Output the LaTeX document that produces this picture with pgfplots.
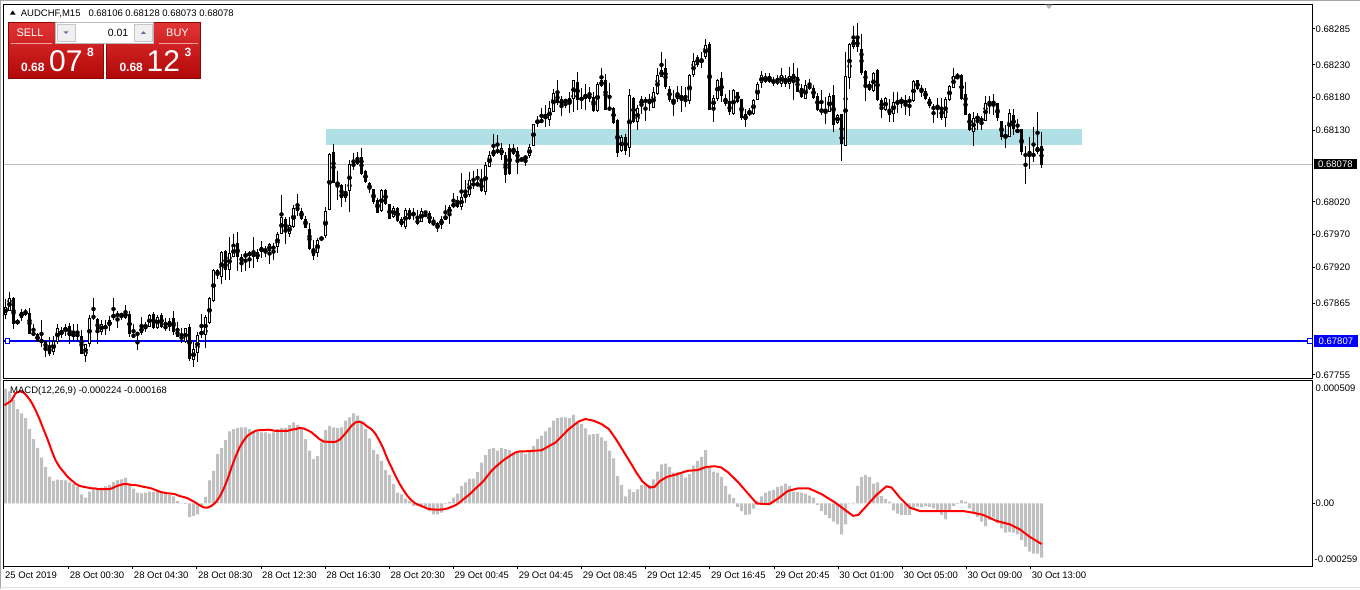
\documentclass[border=0pt]{standalone}
\usepackage{fontspec}
\setmainfont{Liberation Sans}
\usepackage{pgfplots}
\usepackage{pgfplotstable}
\pgfplotsset{compat=1.18}
\definecolor{histgray}{RGB}{192,192,192}
\definecolor{zone}{RGB}{176,224,230}
\definecolor{bidgray}{RGB}{192,192,192}
\definecolor{btop}{RGB}{226,52,52}
\definecolor{bbot}{RGB}{178,8,8}
\definecolor{arrowblue}{RGB}{90,110,160}
\definecolor{mtblue}{RGB}{0,0,255}

\pgfplotstableread{
k o h l c
0 0.67848 0.67872 0.67842 0.67859
1 0.67855 0.67883 0.67854 0.67874
2 0.67873 0.67874 0.67826 0.67834
3 0.67834 0.67842 0.67832 0.67839
4 0.67843 0.67857 0.67838 0.67851
5 0.67854 0.67857 0.67846 0.67848
6 0.67851 0.67857 0.67819 0.67819
7 0.67820 0.67834 0.67816 0.67817
8 0.67817 0.67820 0.67806 0.67807
9 0.67805 0.67839 0.67798 0.67810
10 0.67807 0.67808 0.67784 0.67795
11 0.67800 0.67813 0.67784 0.67788
12 0.67790 0.67815 0.67786 0.67807
13 0.67807 0.67834 0.67803 0.67828
14 0.67817 0.67829 0.67813 0.67825
15 0.67823 0.67834 0.67816 0.67829
16 0.67831 0.67835 0.67803 0.67815
17 0.67815 0.67834 0.67808 0.67820
18 0.67820 0.67834 0.67808 0.67813
19 0.67815 0.67824 0.67787 0.67788
20 0.67785 0.67803 0.67775 0.67803
21 0.67803 0.67847 0.67798 0.67843
22 0.67846 0.67874 0.67839 0.67842
23 0.67841 0.67842 0.67803 0.67822
24 0.67822 0.67841 0.67818 0.67834
25 0.67831 0.67841 0.67818 0.67828
26 0.67830 0.67847 0.67824 0.67839
27 0.67843 0.67874 0.67839 0.67850
28 0.67847 0.67854 0.67828 0.67847
29 0.67847 0.67852 0.67841 0.67847
30 0.67844 0.67863 0.67841 0.67852
31 0.67849 0.67854 0.67813 0.67817
32 0.67818 0.67834 0.67813 0.67814
33 0.67817 0.67819 0.67794 0.67819
34 0.67819 0.67844 0.67817 0.67829
35 0.67832 0.67836 0.67821 0.67828
36 0.67830 0.67849 0.67829 0.67848
37 0.67849 0.67852 0.67826 0.67828
38 0.67828 0.67848 0.67826 0.67845
39 0.67847 0.67849 0.67826 0.67828
40 0.67831 0.67844 0.67824 0.67828
41 0.67829 0.67844 0.67824 0.67839
42 0.67843 0.67854 0.67817 0.67822
43 0.67826 0.67836 0.67813 0.67813
44 0.67813 0.67829 0.67806 0.67811
45 0.67807 0.67829 0.67806 0.67828
46 0.67829 0.67834 0.67778 0.67779
47 0.67778 0.67806 0.67768 0.67794
48 0.67790 0.67821 0.67775 0.67817
49 0.67817 0.67849 0.67813 0.67823
50 0.67817 0.67849 0.67798 0.67844
51 0.67836 0.67875 0.67834 0.67874
52 0.67870 0.67918 0.67867 0.67917
53 0.67917 0.67918 0.67903 0.67908
54 0.67906 0.67946 0.67895 0.67944
55 0.67946 0.67946 0.67900 0.67917
56 0.67917 0.67967 0.67901 0.67944
57 0.67937 0.67972 0.67936 0.67954
58 0.67957 0.67974 0.67915 0.67936
59 0.67936 0.67941 0.67913 0.67929
60 0.67937 0.67946 0.67916 0.67941
61 0.67938 0.67945 0.67920 0.67943
62 0.67936 0.67967 0.67920 0.67944
63 0.67945 0.67950 0.67929 0.67934
64 0.67944 0.67961 0.67934 0.67951
65 0.67949 0.67954 0.67936 0.67944
66 0.67946 0.67959 0.67926 0.67957
67 0.67954 0.67958 0.67931 0.67949
68 0.67952 0.67975 0.67943 0.67972
69 0.67971 0.68031 0.67971 0.67998
70 0.67995 0.67998 0.67956 0.67974
71 0.67971 0.67998 0.67968 0.67985
72 0.67982 0.68016 0.67980 0.68012
73 0.68014 0.68031 0.67998 0.68006
74 0.68005 0.68012 0.67993 0.67994
75 0.67995 0.67998 0.67980 0.67980
76 0.67979 0.67988 0.67947 0.67948
77 0.67949 0.67962 0.67931 0.67938
78 0.67942 0.67965 0.67936 0.67962
79 0.67964 0.67967 0.67963 0.67966
80 0.67968 0.68013 0.67965 0.68007
81 0.68008 0.68095 0.68008 0.68094
82 0.68096 0.68110 0.68049 0.68049
83 0.68047 0.68068 0.68024 0.68051
84 0.68047 0.68049 0.68013 0.68027
85 0.68028 0.68049 0.68021 0.68037
86 0.68038 0.68086 0.68006 0.68079
87 0.68080 0.68095 0.68069 0.68077
88 0.68079 0.68097 0.68077 0.68086
89 0.68089 0.68103 0.68063 0.68063
90 0.68068 0.68069 0.68049 0.68050
91 0.68049 0.68052 0.68034 0.68040
92 0.68041 0.68041 0.68018 0.68021
93 0.68023 0.68026 0.68004 0.68004
94 0.68007 0.68041 0.68006 0.68039
95 0.68039 0.68041 0.68017 0.68018
96 0.68018 0.68018 0.67995 0.67995
97 0.67998 0.68016 0.67997 0.68012
98 0.68012 0.68014 0.67990 0.67992
99 0.67995 0.67998 0.67982 0.67985
100 0.67983 0.68012 0.67980 0.68009
101 0.68008 0.68011 0.67993 0.67994
102 0.68006 0.68011 0.67993 0.68001
103 0.67995 0.68008 0.67985 0.67986
104 0.67990 0.68011 0.67989 0.68007
105 0.68004 0.68004 0.67997 0.68004
106 0.68005 0.68007 0.67988 0.67990
107 0.67990 0.67998 0.67983 0.67985
108 0.67988 0.67990 0.67975 0.67980
109 0.67984 0.68000 0.67980 0.67994
110 0.67994 0.68016 0.67993 0.68000
111 0.68001 0.68016 0.67988 0.68013
112 0.68014 0.68034 0.68012 0.68018
113 0.68023 0.68031 0.68012 0.68013
114 0.68014 0.68064 0.68008 0.68030
115 0.68027 0.68054 0.68018 0.68034
116 0.68030 0.68067 0.68028 0.68054
117 0.68050 0.68069 0.68041 0.68045
118 0.68045 0.68072 0.68044 0.68050
119 0.68052 0.68070 0.68036 0.68038
120 0.68036 0.68081 0.68031 0.68077
121 0.68075 0.68100 0.68075 0.68094
122 0.68092 0.68125 0.68090 0.68100
123 0.68098 0.68123 0.68095 0.68100
124 0.68093 0.68110 0.68084 0.68103
125 0.68094 0.68097 0.68049 0.68063
126 0.68103 0.68109 0.68062 0.68064
127 0.68095 0.68109 0.68092 0.68103
128 0.68098 0.68105 0.68064 0.68084
129 0.68087 0.68090 0.68082 0.68085
130 0.68086 0.68092 0.68075 0.68090
131 0.68091 0.68110 0.68089 0.68104
132 0.68106 0.68140 0.68106 0.68140
133 0.68142 0.68152 0.68136 0.68146
134 0.68144 0.68164 0.68141 0.68146
135 0.68148 0.68170 0.68136 0.68154
136 0.68146 0.68174 0.68136 0.68164
137 0.68160 0.68194 0.68159 0.68189
138 0.68188 0.68208 0.68169 0.68171
139 0.68170 0.68184 0.68153 0.68179
140 0.68176 0.68177 0.68165 0.68174
141 0.68171 0.68189 0.68157 0.68179
142 0.68177 0.68208 0.68159 0.68207
143 0.68204 0.68220 0.68162 0.68177
144 0.68179 0.68194 0.68162 0.68177
145 0.68179 0.68202 0.68161 0.68186
146 0.68184 0.68197 0.68174 0.68179
147 0.68182 0.68189 0.68159 0.68161
148 0.68159 0.68205 0.68159 0.68201
149 0.68198 0.68227 0.68197 0.68207
150 0.68208 0.68217 0.68162 0.68162
151 0.68165 0.68203 0.68159 0.68161
152 0.68165 0.68167 0.68141 0.68142
153 0.68146 0.68148 0.68091 0.68096
154 0.68099 0.68123 0.68097 0.68121
155 0.68120 0.68125 0.68092 0.68099
156 0.68102 0.68194 0.68091 0.68184
157 0.68180 0.68182 0.68141 0.68142
158 0.68143 0.68169 0.68131 0.68165
159 0.68169 0.68183 0.68156 0.68179
160 0.68178 0.68182 0.68145 0.68174
161 0.68174 0.68187 0.68161 0.68177
162 0.68165 0.68197 0.68164 0.68189
163 0.68187 0.68227 0.68186 0.68216
164 0.68213 0.68250 0.68212 0.68224
165 0.68226 0.68240 0.68194 0.68197
166 0.68194 0.68199 0.68174 0.68177
167 0.68174 0.68192 0.68152 0.68178
168 0.68179 0.68199 0.68174 0.68188
169 0.68184 0.68199 0.68159 0.68176
170 0.68179 0.68197 0.68166 0.68176
171 0.68175 0.68217 0.68172 0.68215
172 0.68215 0.68249 0.68212 0.68236
173 0.68242 0.68245 0.68227 0.68231
174 0.68233 0.68250 0.68225 0.68240
175 0.68242 0.68271 0.68240 0.68261
176 0.68263 0.68265 0.68161 0.68162
177 0.68165 0.68184 0.68143 0.68181
178 0.68179 0.68210 0.68176 0.68208
179 0.68211 0.68220 0.68174 0.68183
180 0.68181 0.68186 0.68167 0.68171
181 0.68170 0.68192 0.68153 0.68159
182 0.68156 0.68194 0.68153 0.68192
183 0.68189 0.68189 0.68172 0.68174
184 0.68177 0.68177 0.68147 0.68148
185 0.68146 0.68164 0.68136 0.68156
186 0.68154 0.68164 0.68152 0.68160
187 0.68156 0.68179 0.68154 0.68177
188 0.68177 0.68205 0.68176 0.68201
189 0.68203 0.68220 0.68194 0.68215
190 0.68213 0.68218 0.68202 0.68206
191 0.68206 0.68218 0.68202 0.68210
192 0.68208 0.68212 0.68198 0.68203
193 0.68207 0.68215 0.68199 0.68203
194 0.68202 0.68227 0.68197 0.68215
195 0.68211 0.68215 0.68197 0.68202
196 0.68202 0.68227 0.68194 0.68213
197 0.68207 0.68235 0.68178 0.68217
198 0.68212 0.68227 0.68189 0.68190
199 0.68195 0.68201 0.68181 0.68182
200 0.68178 0.68206 0.68177 0.68200
201 0.68199 0.68209 0.68193 0.68195
202 0.68195 0.68199 0.68178 0.68179
203 0.68183 0.68188 0.68160 0.68162
204 0.68158 0.68193 0.68155 0.68161
205 0.68160 0.68181 0.68140 0.68158
206 0.68159 0.68187 0.68158 0.68183
207 0.68185 0.68199 0.68127 0.68139
208 0.68142 0.68155 0.68140 0.68154
209 0.68155 0.68155 0.68084 0.68109
210 0.68107 0.68251 0.68106 0.68214
211 0.68210 0.68264 0.68194 0.68263
212 0.68258 0.68290 0.68255 0.68269
213 0.68270 0.68295 0.68252 0.68258
214 0.68255 0.68278 0.68215 0.68219
215 0.68222 0.68222 0.68174 0.68203
216 0.68201 0.68206 0.68191 0.68193
217 0.68190 0.68219 0.68189 0.68218
218 0.68223 0.68224 0.68176 0.68177
219 0.68177 0.68181 0.68150 0.68163
220 0.68162 0.68181 0.68160 0.68181
221 0.68163 0.68178 0.68143 0.68154
222 0.68155 0.68189 0.68143 0.68174
223 0.68174 0.68189 0.68157 0.68174
224 0.68172 0.68183 0.68166 0.68178
225 0.68172 0.68184 0.68154 0.68177
226 0.68178 0.68183 0.68153 0.68173
227 0.68176 0.68208 0.68173 0.68206
228 0.68208 0.68208 0.68193 0.68194
229 0.68194 0.68199 0.68181 0.68191
230 0.68191 0.68195 0.68176 0.68178
231 0.68178 0.68181 0.68164 0.68167
232 0.68166 0.68172 0.68143 0.68165
233 0.68166 0.68181 0.68150 0.68168
234 0.68164 0.68181 0.68147 0.68149
235 0.68150 0.68181 0.68135 0.68178
236 0.68177 0.68200 0.68176 0.68198
237 0.68196 0.68227 0.68195 0.68214
238 0.68215 0.68219 0.68209 0.68210
239 0.68215 0.68217 0.68177 0.68178
240 0.68186 0.68204 0.68153 0.68154
241 0.68155 0.68158 0.68130 0.68131
242 0.68128 0.68158 0.68106 0.68150
243 0.68148 0.68158 0.68132 0.68151
244 0.68148 0.68153 0.68131 0.68144
245 0.68145 0.68183 0.68144 0.68173
246 0.68174 0.68183 0.68155 0.68172
247 0.68174 0.68186 0.68153 0.68172
248 0.68171 0.68173 0.68145 0.68148
249 0.68145 0.68145 0.68116 0.68120
250 0.68120 0.68138 0.68102 0.68123
251 0.68121 0.68163 0.68120 0.68158
252 0.68154 0.68163 0.68123 0.68133
253 0.68128 0.68148 0.68127 0.68132
254 0.68132 0.68132 0.68093 0.68096
255 0.68094 0.68107 0.68048 0.68092
256 0.68093 0.68120 0.68071 0.68092
257 0.68093 0.68136 0.68081 0.68093
258 0.68096 0.68159 0.68094 0.68104
259 0.68106 0.68128 0.68073 0.68078
}\candles

\pgfplotstableread{
k v
0 0.000472
1 0.000462
2 0.000426
3 0.000389
4 0.000371
5 0.000352
6 0.000306
7 0.000265
8 0.000228
9 0.000189
10 0.000150
11 0.000110
12 0.000092
13 0.000098
14 0.000097
15 0.000095
16 0.000086
17 0.000079
18 0.000070
19 0.000037
20 0.000023
21 0.000048
22 0.000062
23 0.000062
24 0.000065
25 0.000070
26 0.000076
27 0.000088
28 0.000097
29 0.000099
30 0.000106
31 0.000079
32 0.000061
33 0.000044
34 0.000041
35 0.000044
36 0.000048
37 0.000048
38 0.000051
39 0.000044
40 0.000037
41 0.000035
42 0.000028
43 0.000010
44 -0.000001
45 -0.000004
46 -0.000057
47 -0.000052
48 -0.000046
49 -0.000015
50 0.000026
51 0.000095
52 0.000134
53 0.000203
54 0.000228
55 0.000262
56 0.000297
57 0.000306
58 0.000311
59 0.000313
60 0.000313
61 0.000306
62 0.000299
63 0.000295
64 0.000293
65 0.000293
66 0.000288
67 0.000293
68 0.000306
69 0.000311
70 0.000311
71 0.000323
72 0.000334
73 0.000324
74 0.000306
75 0.000265
76 0.000217
77 0.000182
78 0.000196
79 0.000251
80 0.000302
81 0.000320
82 0.000313
83 0.000311
84 0.000313
85 0.000341
86 0.000355
87 0.000371
88 0.000362
89 0.000341
90 0.000306
91 0.000268
92 0.000219
93 0.000203
94 0.000175
95 0.000137
96 0.000117
97 0.000079
98 0.000044
99 0.000037
100 0.000019
101 0.000010
102 -0.000011
103 -0.000011
104 -0.000011
105 -0.000015
106 -0.000032
107 -0.000046
108 -0.000046
109 -0.000039
110 -0.000004
111 0.000006
112 0.000023
113 0.000040
114 0.000072
115 0.000086
116 0.000102
117 0.000102
118 0.000130
119 0.000168
120 0.000199
121 0.000224
122 0.000228
123 0.000217
124 0.000228
125 0.000224
126 0.000219
127 0.000206
128 0.000214
129 0.000210
130 0.000203
131 0.000214
132 0.000237
133 0.000265
134 0.000279
135 0.000297
136 0.000313
137 0.000341
138 0.000352
139 0.000355
140 0.000355
141 0.000352
142 0.000366
143 0.000334
144 0.000327
145 0.000309
146 0.000283
147 0.000286
148 0.000288
149 0.000272
150 0.000258
151 0.000217
152 0.000185
153 0.000113
154 0.000075
155 0.000029
156 0.000057
157 0.000046
158 0.000057
159 0.000075
160 0.000079
161 0.000076
162 0.000099
163 0.000131
164 0.000161
165 0.000164
166 0.000150
167 0.000127
168 0.000130
169 0.000123
170 0.000106
171 0.000120
172 0.000155
173 0.000175
174 0.000192
175 0.000219
176 0.000150
177 0.000131
178 0.000127
179 0.000109
180 0.000072
181 0.000037
182 0.000021
183 -0.000015
184 -0.000032
185 -0.000048
186 -0.000046
187 -0.000022
188 0.000010
189 0.000028
190 0.000044
191 0.000051
192 0.000055
193 0.000068
194 0.000072
195 0.000081
196 0.000072
197 0.000048
198 0.000046
199 0.000044
200 0.000040
201 0.000032
202 0.000023
203 -0.000007
204 -0.000032
205 -0.000048
206 -0.000062
207 -0.000076
208 -0.000087
209 -0.000128
210 -0.000087
211 -0.000001
212 0.000003
213 0.000072
214 0.000109
215 0.000116
216 0.000109
217 0.000081
218 0.000086
219 0.000030
220 0.000017
221 0.000007
222 -0.000029
223 -0.000043
224 -0.000048
225 -0.000048
226 -0.000048
227 -0.000018
228 -0.000014
229 -0.000015
230 -0.000011
231 -0.000015
232 -0.000021
233 -0.000029
234 -0.000048
235 -0.000066
236 -0.000029
237 -0.000011
238 -0.000004
239 0.000012
240 0.000007
241 -0.000021
242 -0.000043
243 -0.000057
244 -0.000076
245 -0.000094
246 -0.000070
247 -0.000059
248 -0.000083
249 -0.000104
250 -0.000121
251 -0.000119
252 -0.000121
253 -0.000128
254 -0.000152
255 -0.000179
256 -0.000200
257 -0.000208
258 -0.000208
259 -0.000224
}\macdhist

\pgfplotstableread{
k v
-0.25 0.000405
1.5 0.000424
2.5 0.000454
3.5 0.000462
4.5 0.000458
5.5 0.000440
6.5 0.000417
7.5 0.000385
8.5 0.000348
9.5 0.000306
10.5 0.000265
11.5 0.000219
12.5 0.000178
13.5 0.000150
14.5 0.000130
15.5 0.000110
16.5 0.000095
17.5 0.000081
18.5 0.000072
19.5 0.000068
20.5 0.000065
21.5 0.000062
22.5 0.000061
23.5 0.000058
24.5 0.000058
25.5 0.000058
26.5 0.000061
27.5 0.000069
28.5 0.000075
29.5 0.000079
30.5 0.000079
31.5 0.000076
32.5 0.000075
33.5 0.000072
34.5 0.000068
35.5 0.000065
36.5 0.000061
37.5 0.000055
38.5 0.000048
39.5 0.000044
40.5 0.000041
41.5 0.000040
42.5 0.000037
43.5 0.000030
44.5 0.000026
45.5 0.000021
46.5 0.000012
47.5 0.000003
48.5 -0.000008
49.5 -0.000017
50.5 -0.000018
51.5 -0.000011
52.5 0.000003
53.5 0.000026
54.5 0.000058
55.5 0.000099
56.5 0.000148
57.5 0.000192
58.5 0.000230
59.5 0.000258
60.5 0.000279
61.5 0.000290
62.5 0.000299
63.5 0.000302
64.5 0.000302
65.5 0.000304
66.5 0.000302
67.5 0.000299
68.5 0.000299
69.5 0.000299
70.5 0.000299
71.5 0.000304
72.5 0.000306
73.5 0.000311
74.5 0.000309
75.5 0.000302
76.5 0.000293
77.5 0.000279
78.5 0.000265
79.5 0.000255
80.5 0.000254
81.5 0.000254
82.5 0.000254
83.5 0.000262
84.5 0.000279
85.5 0.000299
86.5 0.000320
87.5 0.000334
88.5 0.000337
89.5 0.000330
90.5 0.000316
91.5 0.000306
92.5 0.000286
93.5 0.000258
94.5 0.000224
95.5 0.000182
96.5 0.000148
97.5 0.000113
98.5 0.000081
99.5 0.000054
100.5 0.000030
101.5 0.000012
102.5 -0.000001
103.5 -0.000008
104.5 -0.000015
105.5 -0.000022
106.5 -0.000025
107.5 -0.000026
108.5 -0.000026
109.5 -0.000025
110.5 -0.000021
111.5 -0.000015
112.5 -0.000008
113.5 0.000003
114.5 0.000017
115.5 0.000030
116.5 0.000044
117.5 0.000061
118.5 0.000076
119.5 0.000092
120.5 0.000113
121.5 0.000134
122.5 0.000150
123.5 0.000164
124.5 0.000178
125.5 0.000189
126.5 0.000200
127.5 0.000210
128.5 0.000214
129.5 0.000214
134 0.000219
137.5 0.000251
140.8 0.000306
143.3 0.000338
145 0.000348
147 0.000341
149.02 0.000327
150.86 0.000306
152.6 0.000265
154.13 0.000224
155.97 0.000175
157.7 0.000127
159.23 0.000090
161.07 0.000065
162.3 0.000068
163.63 0.000092
165.36 0.000109
167.9 0.000120
170.47 0.000134
173.0 0.000137
175.2 0.000150
177.3 0.000153
178.9 0.000148
180.7 0.000127
183.2 0.000086
185.8 0.000037
187.8 -0.000001
190.9 -0.000004
192.9 0.000017
195.6 0.000051
198.2 0.000062
200.9 0.000061
204.1 0.000037
207.4 0.000003
210.25 -0.000032
211.9 -0.000052
213.2 -0.000048
215.25 -0.000011
217.75 0.000035
220.25 0.000070
221.5 0.000065
223.6 0.000023
226.1 -0.000018
228.6 -0.000032
232 -0.000032
236 -0.000032
239.4 -0.000032
241.9 -0.000039
244.4 -0.000048
247.75 -0.000073
251.1 -0.000087
253.6 -0.000108
256.1 -0.000139
259 -0.000168
}\macdsig

\newcommand{\lbl}{\fontsize{9.5}{11}\selectfont}

\begin{document}
\begin{tikzpicture}[x=1pt,y=1pt]
\path[use as bounding box] (0,0) rectangle (1360,-589);
\fill[white] (0,0) rectangle (1360,-589);
% window frame
\draw[gray!70, line width=1pt] (0,-0.5) -- (1360,-0.5);
\draw[gray!70, line width=1pt] (0.5,0) -- (0.5,-589);
\draw[gray!25, line width=1pt] (0,-587.5) -- (1360,-587.5);

%================ main price panel =================
\begin{axis}[
  at={(4pt,-4pt)}, anchor=north west, scale only axis,
  width=1308pt, height=374pt,
  xmin=-0.375, xmax=326.625, ymin=0.677503, ymax=0.683233,
  clip mode=individual,
  axis line style={black, line width=1pt},
  xtick=\empty,
  ytick={0.67755,0.67865,0.67920,0.67970,0.68020,0.68130,0.68180,0.68230,0.68285},
  yticklabels={0.67755,0.67865,0.67920,0.67970,0.68020,0.68130,0.68180,0.68230,0.68285},
  scaled ticks=false,
  ytick pos=right, yticklabel pos=right,
  tick align=outside, major tick length=3pt,
  tick style={black, line width=1pt},
  yticklabel style={font=\lbl, anchor=west, inner sep=0pt, xshift=0.5pt},
]
% support / resistance zone
\addplot[fill=zone, draw=none, forget plot] coordinates {(80,0.68107) (269,0.68107) (269,0.68132) (80,0.68132)} -- cycle;
% bid line
\addplot[bidgray, line width=1pt, forget plot] coordinates {(-0.375,0.68078) (326.625,0.68078)};
% blue horizontal line
\addplot[mtblue, line width=2pt, forget plot] coordinates {(-0.375,0.67807) (326.625,0.67807)};
\addplot[only marks, mark=square*, mark size=2.4pt, mark options={fill=white, draw=mtblue, line width=1pt}, forget plot]
  coordinates {(0.5,0.67807) (326.125,0.67807)};
% candle wicks
\addplot[only marks, mark=none, forget plot,
  error bars/.cd, y dir=both, y explicit, error mark=none,
  error bar style={black, line width=1pt}]
  table[x=k, y expr=(\thisrow{h}+\thisrow{l})/2, y error expr=(\thisrow{h}-\thisrow{l})/2] {\candles};
% candle bodies
\addplot[only marks, mark=none, forget plot,
  error bars/.cd, y dir=both, y explicit, error mark=none,
  error bar style={black, line width=3.3pt}]
  table[x=k, y expr=(\thisrow{o}+\thisrow{c})/2, y error expr={max(abs(\thisrow{c}-\thisrow{o})/2,0.0000077)}] {\candles};
% hollow interior of bullish candles
\addplot[only marks, mark=none, forget plot,
  restrict expr to domain={\thisrow{c}-\thisrow{o}}{0.00003:1},
  error bars/.cd, y dir=both, y explicit, error mark=none,
  error bar style={white, line width=1.3pt}]
  table[x=k, y expr=(\thisrow{o}+\thisrow{c})/2, y error expr=(\thisrow{c}-\thisrow{o})/2-0.00001532] {\candles};
% price markers on the scale
\node[anchor=west, fill=black, text=white, font=\lbl, inner xsep=4pt, inner ysep=2pt, xshift=2pt]
  at (axis cs:326.625,0.68078) {0.68078};
\node[anchor=west, fill=mtblue, text=white, font=\lbl, inner xsep=4.5pt, inner ysep=2.5pt, xshift=2pt]
  at (axis cs:326.625,0.67807) {0.67807};
\end{axis}

%================ MACD panel =================
\begin{axis}[
  at={(4pt,-380pt)}, anchor=north west, scale only axis,
  width=1308pt, height=186pt,
  xmin=-0.375, xmax=326.625, ymin=-0.000259, ymax=0.000509,
  clip mode=individual,
  axis line style={black, line width=1pt},
  ytick={0}, yticklabels={0.00},
  scaled ticks=false,
  ytick pos=right, yticklabel pos=right,
  xtick={-0.375,15.78,31.82,47.85,63.88,79.91,95.95,111.98,128.01,144.04,160.08,176.11,192.14,208.17,224.21,240.24,256.27},
  xticklabels={25 Oct 2019,28 Oct 00:30,28 Oct 04:30,28 Oct 08:30,28 Oct 12:30,28 Oct 16:30,28 Oct 20:30,29 Oct 00:45,29 Oct 04:45,29 Oct 08:45,29 Oct 12:45,29 Oct 16:45,29 Oct 20:45,30 Oct 01:00,30 Oct 05:00,30 Oct 09:00,30 Oct 13:00},
  xtick pos=bottom,
  tick align=outside, major tick length=3pt,
  tick style={black, line width=1pt},
  yticklabel style={font=\lbl, anchor=west, inner sep=0pt, xshift=0.5pt},
  xticklabel style={font=\lbl, anchor=north west, inner sep=0pt, xshift=1pt, yshift=-3pt},
]
\addplot[ybar, bar width=3pt, fill=histgray, draw=none, forget plot] table[x=k, y=v] {\macdhist};
\addplot[red, line width=2pt, line join=round, forget plot] table[x=k, y=v] {\macdsig};
\node[anchor=north west, font=\lbl, inner sep=0pt] at ([xshift=3.5pt,yshift=-4.5pt]rel axis cs:1,1) {0.000509};
\node[anchor=south west, font=\lbl, inner sep=0pt] at ([xshift=2.5pt,yshift=3pt]rel axis cs:1,0) {-0.000259};
\end{axis}

% MACD caption
\node[anchor=base west, font=\lbl, inner sep=0pt] at (10,-393.5) {MACD(12,26,9) -0.000224 -0.000168};

% chart shift marker
\fill[gray!55] (1045,-4.5) -- (1053,-4.5) -- (1049,-9) -- cycle;

% symbol header
\fill[black] (10,-14.5) -- (15.5,-14.5) -- (12.75,-10.5) -- cycle;
\node[anchor=base west, font=\lbl, inner sep=0pt] at (20.7,-16.3) {AUDCHF,M15};
\node[anchor=base west, font=\lbl, inner sep=0pt] at (88.3,-16.3) {0.68106 0.68128 0.68073 0.68078};

% one-click trading panel
\shade[top color=btop, bottom color=bbot] (8,-22) rectangle (103,-78);
\shade[top color=btop, bottom color=bbot] (106,-22) rectangle (200,-78);
\draw[bbot!80!black, line width=0.6pt] (8,-22) rectangle (103,-78);
\draw[bbot!80!black, line width=0.6pt] (106,-22) rectangle (200,-78);
\draw[white!55!btop, line width=0.8pt] (10.5,-43.5) -- (51.5,-43.5);
\draw[white!55!btop, line width=0.8pt] (159,-43.5) -- (197.5,-43.5);
\draw[gray!55, fill=white, line width=0.8pt] (55.5,-22.5) rectangle (153.5,-43);
\draw[gray!45, fill=gray!12, line width=0.6pt] (57.5,-24.5) rectangle (75.5,-41);
\draw[gray!45, fill=gray!12, line width=0.6pt] (134.5,-24.5) rectangle (152,-41);
\fill[arrowblue] (63.5,-31.3) -- (68.5,-31.3) -- (66,-33.8) -- cycle;
\fill[arrowblue] (140.8,-33.8) -- (145.8,-33.8) -- (143.3,-31.3) -- cycle;
\node[anchor=east, font=\fontsize{10.5}{12}\selectfont, inner sep=0pt] at (128.5,-32.5) {0.01};
\node[text=white, font=\fontsize{11}{12}\selectfont, inner sep=0pt] at (30,-32.5) {SELL};
\node[text=white, font=\fontsize{11}{12}\selectfont, inner sep=0pt] at (177.5,-32.5) {BUY};
\node[anchor=base west, text=white, font=\fontsize{12}{13}\selectfont\bfseries, inner sep=0pt] at (21,-71.7) {0.68};
\node[anchor=base west, text=white, font=\fontsize{30}{32}\selectfont, inner sep=0pt] at (49,-71.7) {07};
\node[anchor=base west, text=white, font=\fontsize{12}{13}\selectfont\bfseries, inner sep=0pt] at (87,-56.7) {8};
\node[anchor=base west, text=white, font=\fontsize{12}{13}\selectfont\bfseries, inner sep=0pt] at (119.3,-71.7) {0.68};
\node[anchor=base west, text=white, font=\fontsize{30}{32}\selectfont, inner sep=0pt] at (146.5,-71.7) {12};
\node[anchor=base west, text=white, font=\fontsize{12}{13}\selectfont\bfseries, inner sep=0pt] at (184.5,-56.7) {3};
\end{tikzpicture}
\end{document}
